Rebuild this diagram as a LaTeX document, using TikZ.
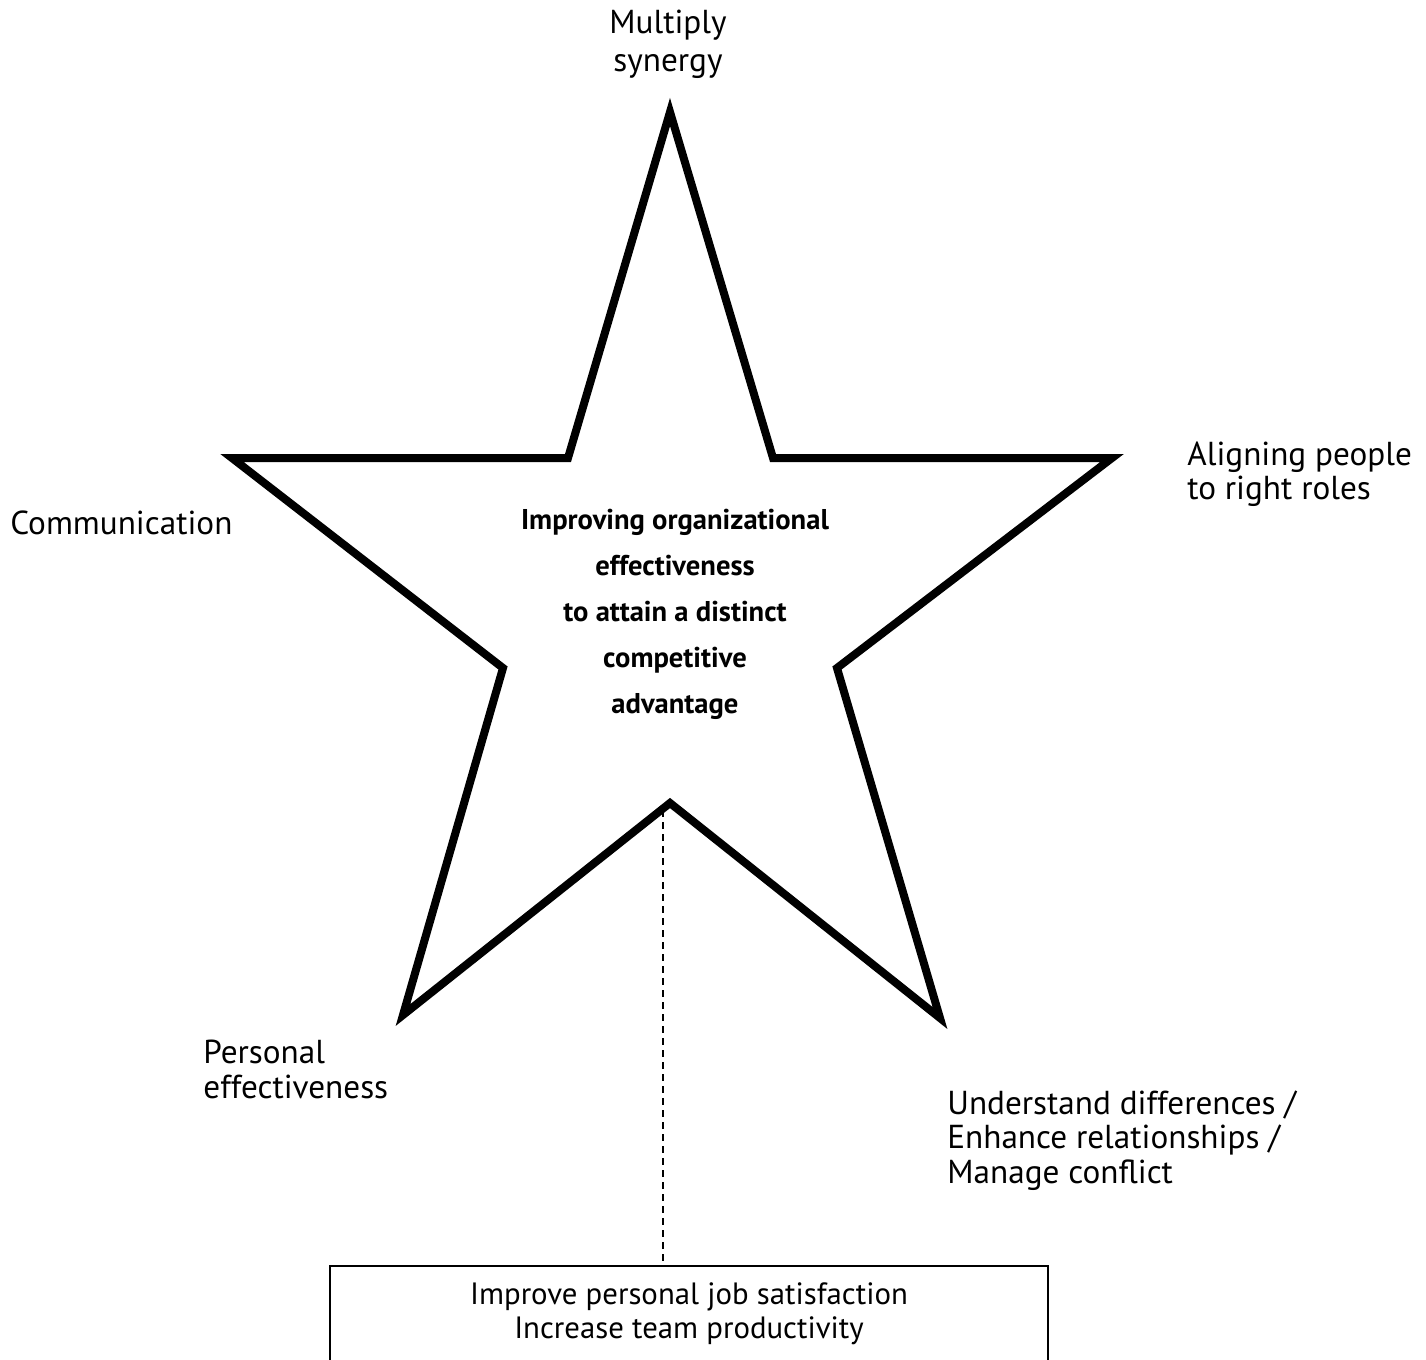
\documentclass[tikz,border=0pt]{standalone}
\usepackage{fontspec}
\setmainfont{PT Sans}
\usetikzlibrary{positioning}

\begin{document}
\begin{tikzpicture}[x=0.5pt, y=-0.5pt,
  lbl/.style={font=\fontsize{16.6}{17.3}\selectfont, align=left, inner sep=0pt, anchor=north west},
  core/.style={font=\bfseries\fontsize{14.3}{23}\selectfont, align=center, inner sep=0pt, anchor=north},
  starline/.style={draw=black, line width=4pt, line join=miter},
  goalbox/.style={draw=black, line width=1pt, minimum width=359pt, minimum height=60pt, anchor=north, inner sep=0pt},
  goaltxt/.style={font=\fontsize{15.4}{17}\selectfont, align=center, inner sep=0pt, anchor=north},
  dashline/.style={draw=black, line width=0.75pt, dash pattern=on 3.5pt off 2.5pt}]
\useasboundingbox (0,0) rectangle (1426,1360);
% star vertices
\coordinate (top) at (670,112);
\coordinate (ur) at (773,458);
\coordinate (rt) at (1112,458);
\coordinate (mr) at (837,668);
\coordinate (br) at (940,1018);
\coordinate (bi) at (670,803);
\coordinate (bl) at (403,1015);
\coordinate (ml) at (503,668);
\coordinate (lt) at (232,458);
\coordinate (ul) at (568,458);
\draw[starline] (top) -- (ur) -- (rt) -- (mr) -- (br) -- (bi) -- (bl) -- (ml) -- (lt) -- (ul) -- cycle;
% labels
\node[lbl, anchor=north, align=center, font=\fontsize{16.6}{19}\selectfont] (syn) at (668,10) {Multiply\\synergy};
\node[lbl] (align) at (1187,441) {Aligning people\\to right roles};
\node[lbl] (comm) at (10,510) {Communication};
\node[lbl] (pers) at (203,1040) {Personal\\effectiveness};
\node[lbl] (diff) at (947,1090) {Understand differences /\\Enhance relationships /\\Manage conflict};
\node[core] (aim) at (675,509) {Improving organizational\\effectiveness\\to attain a distinct\\competitive\\advantage};
% goal box
\node[goalbox] (goal) at (689,1265) {};
\node[goaltxt] (gtxt) at ([yshift=-8.5pt]goal.north) {Improve personal job satisfaction\\Increase team productivity};
\coordinate (dtop) at (663,810);
\draw[dashline] (dtop) -- (dtop |- goal.north);
\end{tikzpicture}
\end{document}
